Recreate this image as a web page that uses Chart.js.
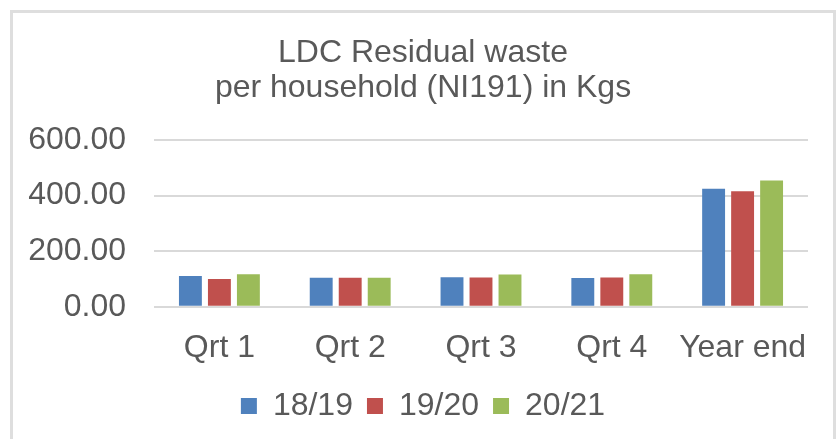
<!DOCTYPE html>
<html>
<head>
<meta charset="utf-8">
<script src="https://cdn.jsdelivr.net/npm/chart.js@4"></script>
<style>
  html, body { margin: 0; padding: 0; background: #ffffff; }
  #wrap { position: relative; width: 840px; height: 439px; overflow: hidden; }
  #frame { position: absolute; left: 10px; top: 10px; width: 826px; height: 460px;
           border: 3px solid #DEDEDE; box-sizing: border-box; }
  #c { position: absolute; left: 0; top: 0; }
</style>
</head>
<body>
<div id="wrap">
  <div id="frame"></div>
  <canvas id="c" width="840" height="439"></canvas>
</div>
<script>
const categories = ["Qrt 1", "Qrt 2", "Qrt 3", "Qrt 4", "Year end"];
const series1819 = [110, 104, 106, 103, 424];
const series1920 = [100, 104, 105, 105, 415];
const series2021 = [117, 104, 116, 117, 454];
const seriesNames = ["18/19", "19/20", "20/21"];
const titleLines = ["LDC Residual waste", "per household (NI191) in Kgs"];
const yTicks = [0, 200, 400, 600];

const FONT = '"Liberation Sans", Arial, sans-serif';
const TEXT = '#595959';

// centre the title and legend within the chart frame (10..836)
const centerBoxes = {
  id: 'centerBoxes',
  afterLayout(chart) {
    [chart.titleBlock, chart.legend].forEach(b => {
      if (!b) return;
      b.left = 38; b.right = 808; b.width = 770;
    });
  }
};

new Chart(document.getElementById('c'), {
  type: 'bar',
  data: {
    labels: categories,
    datasets: [
      { label: seriesNames[0], data: series1819, backgroundColor: '#4F81BD' },
      { label: seriesNames[1], data: series1920, backgroundColor: '#C0504D' },
      { label: seriesNames[2], data: series2021, backgroundColor: '#9BBB59' }
    ]
  },
  plugins: [centerBoxes],
  options: {
    responsive: false,
    animation: false,
    devicePixelRatio: 1,
    datasets: { bar: { categoryPercentage: 0.665, barPercentage: 0.79 } },
    layout: { padding: { left: 0, right: 32, top: 14, bottom: 7 } },
    plugins: {
      title: {
        display: true,
        text: titleLines,
        color: TEXT,
        font: { family: FONT, size: 32, weight: 'normal', lineHeight: 1.1 },
        padding: { top: 21.5, bottom: 34 }
      },
      legend: {
        position: 'bottom',
        labels: {
          color: TEXT,
          font: { family: FONT, size: 32 },
          boxWidth: 16,
          boxHeight: 16,
          padding: 14
        }
      },
      tooltip: { enabled: false }
    },
    scales: {
      x: {
        grid: { display: false },
        border: { display: false },
        afterFit: (s) => { s.height = 69.3; },
        ticks: { color: TEXT, font: { family: FONT, size: 32 }, padding: 14, maxRotation: 0 }
      },
      y: {
        min: 0,
        max: 600,
        afterBuildTicks: (s) => { s.ticks = yTicks.map(v => ({ value: v })); },
        afterFit: (s) => { s.width = 154; },
        grid: { color: '#D9D9D9', lineWidth: 2, drawTicks: false },
        border: { display: false },
        ticks: {
          color: TEXT,
          font: { family: FONT, size: 32 },
          padding: 28,
          callback: (v) => Number(v).toFixed(2)
        }
      }
    }
  }
});
</script>
</body>
</html>
